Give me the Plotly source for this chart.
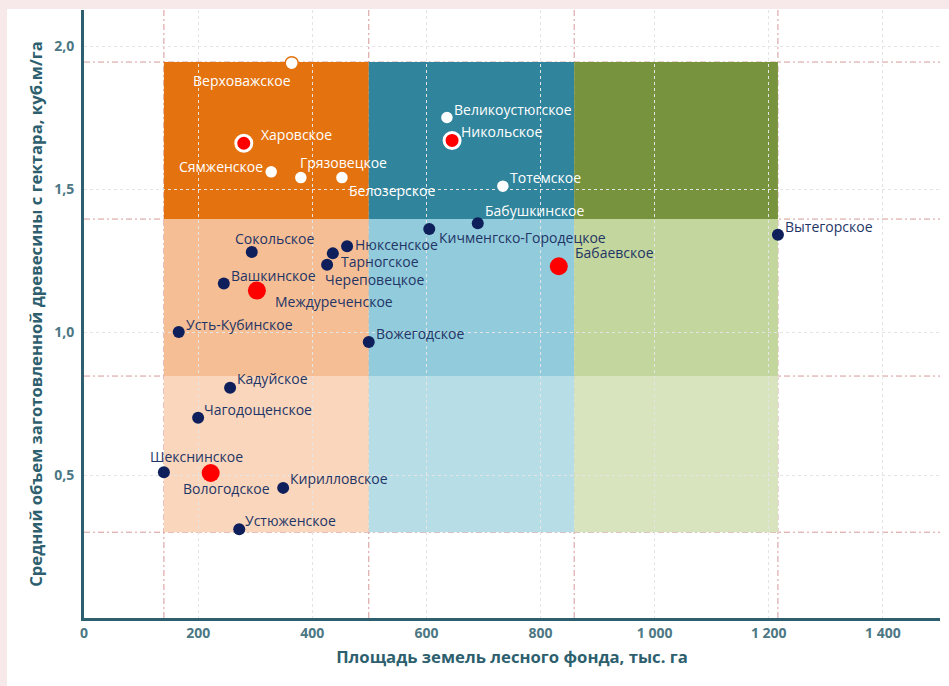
import plotly.graph_objects as go

# districts: forest fund area (thousand ha) vs average harvested volume per ha (m3/ha)
names = ["Верховажское", "Харовское", "Сямженское", "Грязовецкое", "Белозерское",
         "Великоустюгское", "Никольское", "Тотемское", "Бабушкинское", "Кичменгско-Городецкое",
         "Вытегорское", "Бабаевское", "Сокольское", "Нюксенское", "Тарногское",
         "Череповецкое", "Вашкинское", "Междуреченское", "Усть-Кубинское", "Вожегодское",
         "Кадуйское", "Чагодощенское", "Шекснинское", "Вологодское", "Кирилловское",
         "Устюженское"]
area = [364, 280, 328, 380, 452,
        636, 645, 734, 690, 605,
        1216, 832, 294, 461, 436,
        426, 245, 303, 166, 499,
        256, 200, 140, 222, 349,
        272]
volume = [1.94, 1.66, 1.56, 1.54, 1.54,
          1.75, 1.67, 1.51, 1.38, 1.36,
          1.34, 1.23, 1.28, 1.30, 1.275,
          1.235, 1.17, 1.145, 1.00, 0.965,
          0.805, 0.70, 0.51, 0.507, 0.455,
          0.31]
highlighted = ["Харовское", "Никольское", "Междуреченское", "Вологодское", "Бабаевское"]

# borders of the zones
x_bounds = [140, 499, 859, 1216]
y_bounds = [0.30, 0.846, 1.395, 1.944]

x_ticks = [0, 200, 400, 600, 800, 1000, 1200, 1400]
y_ticks = [0.5, 1.0, 1.5, 2.0]

# zone colours: columns (orange, teal, green) x rows (bottom, middle, top)
zone_colors = [["#FAD6BC", "#F6BE95", "#E4720F"],
               ["#B7DDE7", "#92CBDB", "#30849B"],
               ["#D7E4BE", "#C3D69D", "#77933D"]]

# label placement: xshift, yshift (px), anchor
label_pos = {
    "Верховажское": (1, -17, "right"), "Харовское": (15, 9, "left"),
    "Сямженское": (-6, 5, "right"), "Грязовецкое": (-3, 15, "left"),
    "Белозерское": (5, -13, "left"), "Великоустюгское": (5, 8, "left"),
    "Никольское": (7, 9, "left"), "Тотемское": (5, 9, "left"),
    "Бабушкинское": (5, 13, "left"), "Кичменгско-Городецкое": (8, -8, "left"),
    "Вытегорское": (5, 8, "left"), "Бабаевское": (14, 14, "left"),
    "Сокольское": (-19, 13, "left"), "Нюксенское": (6, 2, "left"),
    "Тарногское": (6, -8, "left"), "Череповецкое": (-4, -15, "left"),
    "Вашкинское": (5, 8, "left"), "Междуреченское": (16, -11, "left"),
    "Усть-Кубинское": (5, 8, "left"), "Вожегодское": (5, 9, "left"),
    "Кадуйское": (5, 9, "left"), "Чагодощенское": (4, 8, "left"),
    "Шекснинское": (-16, 16, "left"), "Вологодское": (-30, -15, "left"),
    "Кирилловское": (5, 9, "left"), "Устюженское": (4, 9, "left"),
}
white_labels = ["Верховажское", "Харовское", "Сямженское", "Грязовецкое", "Белозерское",
                "Великоустюгское", "Никольское", "Тотемское", "Бабушкинское"]

NAVY = "#0E1F5B"
NAVY_TEXT = "#1F3566"
RED = "#FF0000"
AXIS = "#2D5F6E"
TICK = "#4C7784"
FONT = "Open Sans"
DASH = dict(color="#D69999", width=1, dash="6px,3px,2px,3px")

fig = go.Figure()

# white panel over the pink page
fig.add_shape(type="rect", xref="paper", yref="paper", x0=-0.09, x1=1.2, y0=-0.3, y1=1.0016,
              fillcolor="white", line_width=0, layer="below")

# zones
for i in range(3):
    for j in range(3):
        fig.add_shape(type="rect", x0=x_bounds[i], x1=x_bounds[i + 1],
                      y0=y_bounds[j], y1=y_bounds[j + 1],
                      fillcolor=zone_colors[i][j], line_width=0, layer="below")

# dashed borders across the whole plot
for xv in x_bounds:
    fig.add_shape(type="line", x0=xv, x1=xv, yref="paper", y0=0, y1=1, line=DASH, layer="between")
for yv in y_bounds:
    fig.add_shape(type="line", xref="paper", x0=0, x1=1, y0=yv, y1=yv, line=DASH, layer="between")

top = y_bounds[2]
navy_pts = [(n, x, y) for n, x, y in zip(names, area, volume) if n not in highlighted and y <= top]
white_pts = [(n, x, y) for n, x, y in zip(names, area, volume) if n not in highlighted and y > top]
red_pts = [(n, x, y) for n, x, y in zip(names, area, volume) if n in highlighted and y <= top]
ring_pts = [(n, x, y) for n, x, y in zip(names, area, volume) if n in highlighted and y > top]

fig.add_trace(go.Scatter(x=[p[1] for p in navy_pts], y=[p[2] for p in navy_pts],
                         text=[p[0] for p in navy_pts], mode="markers",
                         marker=dict(size=12, color=NAVY), hoverinfo="text"))
fig.add_trace(go.Scatter(x=[p[1] for p in white_pts], y=[p[2] for p in white_pts],
                         text=[p[0] for p in white_pts], mode="markers",
                         marker=dict(size=13, color="white",
                                     line=dict(width=1.5, color=["#E4720F" if p[1] < x_bounds[1] else "#30849B"
                                                                 for p in white_pts])),
                         hoverinfo="text"))
fig.add_trace(go.Scatter(x=[p[1] for p in red_pts], y=[p[2] for p in red_pts],
                         text=[p[0] for p in red_pts], mode="markers",
                         marker=dict(size=18, color=RED), hoverinfo="text"))
fig.add_trace(go.Scatter(x=[p[1] for p in ring_pts], y=[p[2] for p in ring_pts],
                         text=[p[0] for p in ring_pts], mode="markers",
                         marker=dict(size=16, color=RED, line=dict(width=3, color="white")),
                         hoverinfo="text"))

for n, x, y in zip(names, area, volume):
    dx, dy, anchor = label_pos[n]
    fig.add_annotation(x=x, y=y, text=n, showarrow=False, xanchor=anchor, yanchor="middle",
                       xshift=dx, yshift=dy,
                       font=dict(family=FONT, size=14,
                                 color="white" if n in white_labels else NAVY_TEXT))

fig.update_layout(
    width=949, height=686, showlegend=False,
    margin=dict(l=84, r=9, t=10, b=68),
    paper_bgcolor="#F7E8EA", plot_bgcolor="white",
    separators=", ",
    font=dict(family=FONT, color=AXIS),
)
fig.update_xaxes(range=[0, 1500], tickvals=x_ticks, tickformat=",d", automargin=False,
                 showline=True, linecolor=AXIS, linewidth=3,
                 showgrid=True, gridcolor="#E4E4E4", griddash="dot", gridwidth=1, zeroline=False,
                 tickfont=dict(family=FONT, size=14, color=TICK, weight="bold"),
                 title=dict(text="Площадь земель лесного фонда, тыс. га", standoff=11,
                            font=dict(family=FONT, size=16.7, color=AXIS, weight="bold")))
fig.update_yaxes(range=[0, 2.126], tickvals=y_ticks, tickformat=".1f", automargin=False,
                 showline=True, linecolor=AXIS, linewidth=3, ticklabelstandoff=4,
                 showgrid=True, gridcolor="#E4E4E4", griddash="dot", gridwidth=1, zeroline=False,
                 tickfont=dict(family=FONT, size=14, color=TICK, weight="bold"),
                 title=dict(text="Средний объем заготовленной древесины с гектара, куб.м/га", standoff=8,
                            font=dict(family=FONT, size=16.7, color=AXIS, weight="bold")))

# the page body has a default 8px margin; remove it so the figure fills the window
fig.write_html("out.html", config={"displayModeBar": False},
               post_script="document.body.style.margin='0';")
